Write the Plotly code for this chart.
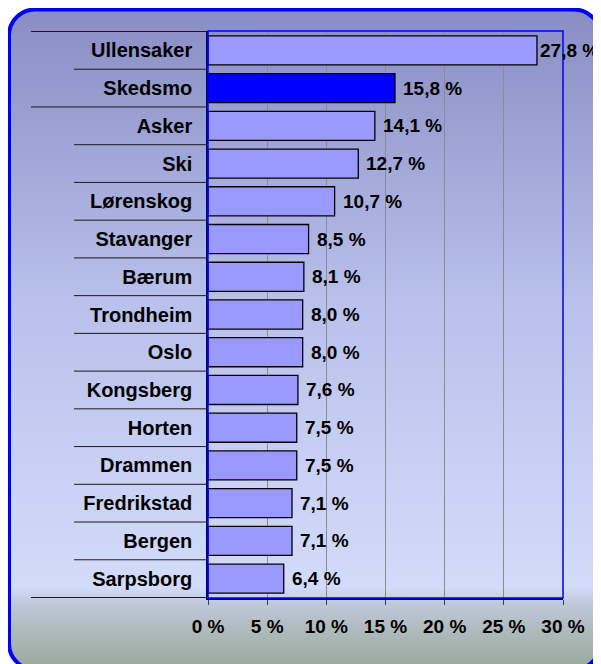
import base64
import plotly.graph_objects as go

# ---- data ----
categories = ["Ullensaker", "Skedsmo", "Asker", "Ski", "Lørenskog", "Stavanger", "Bærum",
              "Trondheim", "Oslo", "Kongsberg", "Horten", "Drammen", "Fredrikstad", "Bergen", "Sarpsborg"]
values = [27.8, 15.8, 14.1, 12.7, 10.7, 8.5, 8.1, 8.0, 8.0, 7.6, 7.5, 7.5, 7.1, 7.1, 6.4]
highlight = "Skedsmo"
tick_vals = [0, 5, 10, 15, 20, 25, 30]
tick_text = ["0 %", "5 %", "10 %", "15 %", "20 %", "25 %", "30 %"]

# page body has an 8px margin, so the figure is drawn 8px smaller
OFF = 8
W, H = 601 - OFF, 664 - OFF
L, R, T, B = 208 - OFF, 38, 31 - OFF, 66
pw, ph = W - L - R, H - T - B

FONT = "Liberation Sans, Arial, sans-serif"

# background frame (rounded, gradient) as an SVG image
svg = f'''<svg xmlns="http://www.w3.org/2000/svg" width="{W}" height="{H}" viewBox="0 0 {W} {H}">
<defs><linearGradient id="g" x1="0" y1="0" x2="0" y2="1">
<stop offset="0" stop-color="#898DC4"/>
<stop offset="0.45" stop-color="#B9C1EC"/>
<stop offset="0.875" stop-color="#D3DBFA"/>
<stop offset="0.90" stop-color="#BFC8DA"/>
<stop offset="0.935" stop-color="#B0BCC0"/>
<stop offset="1" stop-color="#9AA99C"/>
</linearGradient></defs>
<rect x="1" y="1.5" width="591" height="660" rx="26" ry="26" fill="url(#g)" stroke="#0000FF" stroke-width="4"/>
</svg>'''
src = "data:image/svg+xml;base64," + base64.b64encode(svg.encode()).decode()

colors = ["#0000FF" if c == highlight else "#9999FF" for c in categories]

fig = go.Figure(go.Bar(
    x=values, y=categories, orientation="h",
    marker=dict(color=colors, line=dict(color="#000000", width=1.3)),
    hoverinfo="skip",
))

annotations = []
for c, v in zip(categories, values):
    annotations.append(dict(
        x=v, y=c, xref="x", yref="y", xanchor="left", yanchor="middle",
        xshift=1 if v > 27 else 6, showarrow=False,
        text=f"{v:.1f}".replace(".", ",") + " %",
        font=dict(family=FONT, size=19, color="#000000", weight="bold"),
    ))

shapes = []
n = len(categories)
long_bounds = {-0.5, 1.5, n - 0.5}
for i in range(n + 1):
    yb = i - 0.5
    x0 = (31 - OFF - L) / pw if yb in long_bounds else (74 - OFF - L) / pw
    shapes.append(dict(type="line", xref="paper", yref="y", x0=x0, x1=0, y0=yb, y1=yb,
                       line=dict(color="#1a1a1a", width=1)))
shapes.append(dict(type="rect", xref="paper", yref="paper", x0=0, x1=1, y0=0, y1=1,
                   line=dict(color="#0000FF", width=1.5), layer="above"))

fig.update_layout(
    width=W, height=H,
    margin=dict(l=L, r=R, t=T, b=B, pad=0),
    paper_bgcolor="rgba(0,0,0,0)",
    plot_bgcolor="#FFFFCC",
    bargap=0.23,
    showlegend=False,
    font=dict(family=FONT, size=19, color="#000000", weight="bold"),
    images=[dict(source=src, xref="paper", yref="paper",
                 x=-L / pw, y=1 + T / ph, sizex=W / pw, sizey=H / ph,
                 xanchor="left", yanchor="top", sizing="stretch", layer="below")],
    annotations=annotations,
    shapes=shapes,
    xaxis=dict(range=[0, 30], tickvals=tick_vals, ticktext=tick_text,
               showgrid=True, gridcolor="#8C8C8C", gridwidth=1,
               showline=True, linecolor="#000066", linewidth=1.5,
               ticks="outside", ticklen=5, tickcolor="#404040",
               tickfont=dict(family=FONT, size=19, color="#000000", weight="bold"),
               ticklabelstandoff=5, zeroline=False, fixedrange=True),
    yaxis=dict(autorange="reversed", showgrid=False,
               showline=True, linecolor="#000066", linewidth=1.5,
               ticks="", ticklabelstandoff=10,
               tickfont=dict(family=FONT, size=20, color="#000000", weight="bold"),
               fixedrange=True),
)

fig.write_html("out.html")
